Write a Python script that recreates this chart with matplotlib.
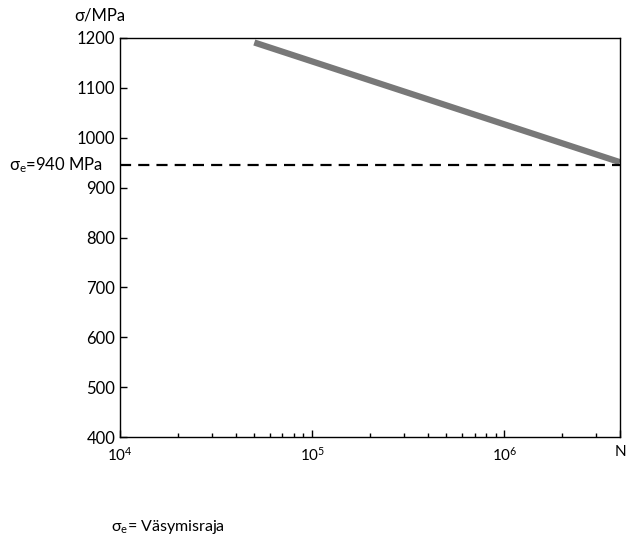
import numpy as np
import matplotlib
matplotlib.use('Agg')
import matplotlib.pyplot as plt
from matplotlib.ticker import FixedLocator, LogLocator, NullFormatter

plt.rcParams['font.family'] = ['Lato', 'DejaVu Sans']
plt.rcParams['mathtext.fontset'] = 'custom'
plt.rcParams['mathtext.rm'] = 'Lato'
plt.rcParams['mathtext.it'] = 'Lato'

# data
n_cycles = [5e4, 4e6]
stress = [1191, 951]
sigma_e = 945
x_ticks = [1e4, 1e5, 1e6, 4e6]
x_labels = ['$\\mathregular{10^4}$', '$\\mathregular{10^5}$', '$\\mathregular{10^6}$', 'N']
y_ticks = [400, 500, 600, 700, 800, 900, 1000, 1100, 1200]

fig = plt.figure(figsize=(6.27, 5.39), dpi=100)
ax = fig.add_axes([0.1914, 0.1892, 0.7974, 0.7403])

ax.plot(n_cycles, stress, color='#787878', lw=4.5, solid_capstyle='butt')
ax.axhline(sigma_e, color='black', lw=1.6, ls=(0, (5, 3.2)))

ax.set_xscale('log')
ax.set_xlim(1e4, 4e6)
ax.set_ylim(400, 1200)
ax.xaxis.set_major_locator(FixedLocator(x_ticks))
ax.set_xticklabels(x_labels)
ax.xaxis.set_minor_locator(LogLocator(base=10, subs=np.arange(2, 10)))
ax.xaxis.set_minor_formatter(NullFormatter())
ax.set_yticks(y_ticks)
ax.tick_params(axis='both', which='major', direction='in', length=5, width=1, labelsize=12)
ax.tick_params(axis='x', which='major', labelsize=11, pad=6)
ax.tick_params(axis='x', which='minor', direction='in', length=3, width=1)
for s in ax.spines.values():
    s.set_linewidth(1)

fig.text(0.118, 0.972, 'σ/MPa', fontsize=12, ha='left', va='center')
ax.text(-0.034, sigma_e, '$\\mathregular{σ_e}$=940 MPa', transform=ax.get_yaxis_transform(),
        fontsize=12, ha='right', va='center')
fig.text(0.177, 0.022, '$\\mathregular{σ_e}$= Väsymisraja', fontsize=11.5, ha='left', va='center')

fig.savefig('out.png', dpi=100)
